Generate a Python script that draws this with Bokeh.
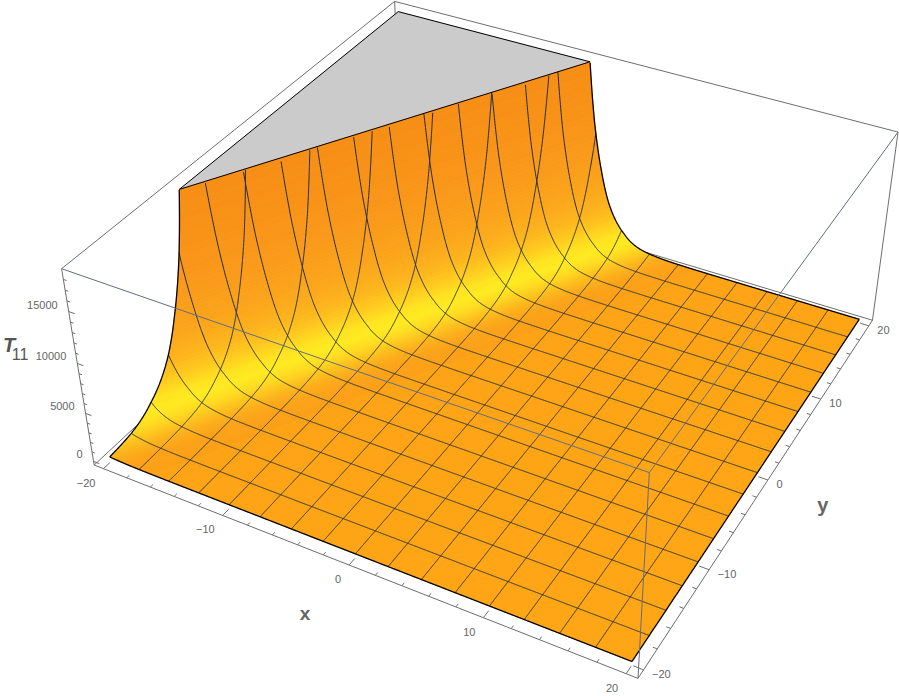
import numpy as np
from bokeh.plotting import figure
from bokeh.models import Range1d
from bokeh.embed import file_html
from bokeh.resources import INLINE
from bokeh.core.properties import value

# ---- data ----
x_tick_values = [-20, -10, 0, 10, 20]
y_tick_values = [-20, -10, 0, 10, 20]
z_tick_values = [0, 5000, 10000, 15000]
x_tick_labels = ["\u221220", "\u221210", "0", "10", "20"]
y_tick_labels = ["\u221220", "\u221210", "0", "10", "20"]
z_tick_labels = ["0", "5000", "10000", "15000"]
axis_labels = ["x", "y", "T", "11"]

# height of the surface along its ridge coordinate w = y - slope * x
ridge_w = [-55, 0, 5, 10, 12.5, 14.6, 17.1, 19.6, 22.1, 23.3, 24.6, 25.47]
ridge_t = [0.1, 0.3, 2, 20, 60, 155, 475, 1650, 4550, 7650, 12800, 18600]
ridge_slope = 1.732
z_clip = 18600
surface_min, surface_max = -20, 20
mesh_step = 2.5

# ---- shading of the surface along w ----
shade_w = [-55, 6, 9, 12, 14, 15.6, 17.2, 18.7, 19.7, 20.8, 21.8, 22.9, 24.0, 25.47]
shade_hex = ["#FFA616", "#FEA416", "#FCA017", "#FBA218", "#FCAE1A", "#FDC01C", "#FFD81F", "#FFEA20",
             "#FFE420", "#FFCC1E", "#FDB61D", "#FBA51B", "#FA991A", "#F78E16"]

# ---- camera: a projective fit of box/surface corners to the canvas ----
BOX = 20.8
ZB, ZT = -385.0, 18985.0
fit_world = [(-BOX, -BOX, ZB), (BOX, -BOX, ZB), (BOX, BOX, ZB), (-BOX, BOX, ZB),
             (-BOX, -BOX, ZT), (BOX, -BOX, ZT), (BOX, BOX, ZT), (-BOX, BOX, ZT),
             (-20, -20, 150), (20, -20, 0), (20, 20, 0), (-20, 20, 18600)]
fit_canvas = [(92.7, 463.5), (637.3, 677.7), (872.3, 320), (402, 179),
              (61.7, 269), (649.3, 472.3), (897.3, 131), (394, 0),
              (109.3, 456.7), (631.7, 661), (858.3, 319), (397.3, 11.7)]


def fit_camera():
    rows = []
    for (X, Y, Z), (u, v) in zip(fit_world, fit_canvas):
        Z = Z / 1000.0
        rows.append([X, Y, Z, 1, 0, 0, 0, 0, -u * X, -u * Y, -u * Z, -u])
        rows.append([0, 0, 0, 0, X, Y, Z, 1, -v * X, -v * Y, -v * Z, -v])
    return np.linalg.svd(np.array(rows))[2][-1].reshape(3, 4)


CAM = fit_camera()


def project(x, y, z):
    x, y, z = np.broadcast_arrays(np.asarray(x, float), np.asarray(y, float), np.asarray(z, float))
    h = CAM @ np.vstack([x.ravel(), y.ravel(), z.ravel() / 1000.0, np.ones(x.size)])
    return h[0] / h[2], h[1] / h[2]


def height(w):
    return np.minimum(np.exp(np.interp(w, ridge_w, np.log(ridge_t))), z_clip)


w_top = ridge_w[-1]
rgb = np.array([[int(c[i:i + 2], 16) for i in (1, 3, 5)] for c in shade_hex], float)


def shade(w):
    return "#%02x%02x%02x" % tuple(int(round(np.interp(w, shade_w, rgb[:, k]))) for k in range(3))


def w_of(x, y):
    return y - ridge_slope * x


def strip_polygon(w1, w2):
    """Part of the square between the level lines w1 and w2, as (x, y, w) vertices."""
    a, b = surface_min, surface_max
    verts = []
    for w in (w1, w2):
        for y in (a, b):              # crossings with y = const
            x = (y - w) / ridge_slope
            if a <= x <= b:
                verts.append((x, y, w))
        for x in (a, b):              # crossings with x = const
            y = w + ridge_slope * x
            if a < y < b:
                verts.append((x, y, w))
    for x, y in ((a, a), (a, b), (b, a), (b, b)):
        if w1 < w_of(x, y) < w2:
            verts.append((x, y, w_of(x, y)))
    cx = sum(v[0] for v in verts) / max(len(verts), 1)
    cy = sum(v[1] for v in verts) / max(len(verts), 1)
    verts.sort(key=lambda q: np.arctan2(q[1] - cy, q[0] - cx))
    return verts


p = figure(width=899, height=696, output_backend="svg", toolbar_location=None,
           x_range=Range1d(0, 899), y_range=Range1d(696, 0), min_border=0,
           outline_line_color=None, background_fill_color="white")
p.axis.visible = False
p.grid.visible = False

c_box = "#6e6e6e"
c_front = "#616d80"
c_mesh = "#1f2d40"


def seg(a, b):
    xs, ys = project([a[0], b[0]], [a[1], b[1]], [a[2], b[2]])
    return list(xs), list(ys)


def draw_segments(pairs, color, width=1.0):
    xs, ys = zip(*[seg(a, b) for a, b in pairs])
    p.multi_line(list(xs), list(ys), line_color=color, line_width=width)


# back of the box
A0, B0, C0, D0 = (-BOX, -BOX, ZB), (BOX, -BOX, ZB), (BOX, BOX, ZB), (-BOX, BOX, ZB)
A1, B1, C1, D1 = (-BOX, -BOX, ZT), (BOX, -BOX, ZT), (BOX, BOX, ZT), (-BOX, BOX, ZT)
draw_segments([(A1, D1), (D1, C1), (A0, D0), (D0, C0), (D0, D1)], c_box)

# clipped top of the surface
ya = w_top + ridge_slope * surface_min
xb = (surface_max - w_top) / ridge_slope
top_x, top_y = project([surface_min, surface_min, xb], [ya, surface_max, surface_max], [z_clip] * 3)
p.patch(list(top_x), list(top_y), fill_color="#cbcbcb", line_color="#cbcbcb", line_width=0.5)

# the surface, back to front, as strips between level lines of w
w_edges = np.concatenate([np.arange(-54.6, 10, 3.0), np.arange(10, 22, 0.2), np.arange(22, w_top, 0.1), [w_top]])
pxs, pys, cols = [], [], []
for w1, w2 in zip(w_edges[::-1][1:], w_edges[::-1][:-1]):
    verts = strip_polygon(w1, w2)
    if len(verts) < 3:
        continue
    vx = np.array([v[0] for v in verts])
    vy = np.array([v[1] for v in verts])
    vz = height(np.array([v[2] for v in verts]))
    sx, sy = project(vx, vy, vz)
    pxs.append(list(sx))
    pys.append(list(sy))
    cols.append(shade((w1 + w2) / 2))
p.patches(pxs, pys, fill_color=cols, line_color=cols, line_width=0.8)


def surface_line(xv, yv):
    xv, yv = np.asarray(xv, float), np.asarray(yv, float)
    w = w_of(xv, yv)
    keep = w <= w_top
    xv, yv, w = xv[keep], yv[keep], w[keep]
    return project(xv, yv, height(w))


dense = np.linspace(surface_min, surface_max, 1601)
mesh_values = np.arange(surface_min + mesh_step, surface_max, mesh_step)
mx, my = [], []
for v in mesh_values:
    for xv, yv in ((np.full_like(dense, v), dense), (dense, np.full_like(dense, v))):
        sx, sy = surface_line(xv, yv)
        mx.append(list(sx))
        my.append(list(sy))
p.multi_line(mx, my, line_color=c_mesh, line_width=1.0)

# outline of the surface
ox, oy = [], []
for xv, yv in ((np.full_like(dense, surface_min), dense), (np.full_like(dense, surface_max), dense),
               (dense, np.full_like(dense, surface_min)), (dense, np.full_like(dense, surface_max))):
    sx, sy = surface_line(xv, yv)
    ox.append(list(sx))
    oy.append(list(sy))
p.multi_line(ox, oy, line_color="black", line_width=1.3)
p.line(list(top_x) + [top_x[0]], list(top_y) + [top_y[0]], line_color="black", line_width=1.0)

# front of the box
draw_segments([(A1, B1), (B1, C1), (B0, B1)], c_front)
draw_segments([(A0, B0), (B0, C0), (A0, A1), (C0, C1)], c_box)

# tick marks
ticks = []
for v in range(-20, 21, 2):
    L = 0.7 if v % 10 == 0 else 0.3
    ticks.append(((v, -BOX, ZB), (v, -BOX + L, ZB)))
    ticks.append(((BOX, v, ZB), (BOX - L, v, ZB)))
for v in range(0, 19000, 1000):
    L = 0.5 if v % 5000 == 0 else 0.25
    ticks.append(((-BOX, -BOX, v), (-BOX + L, -BOX, v)))
draw_segments(ticks, c_box)

# tick labels
font = value("Liberation Sans")
lx, ly = project(x_tick_values, [-BOX] * 5, [ZB] * 5)
p.text(list(lx), list(ly), text=x_tick_labels, text_font=font, text_font_size="11px", text_color="#666666",
       text_align="right", text_baseline="middle", x_offset=-8, y_offset=14)
lx, ly = project([BOX] * 5, y_tick_values, [ZB] * 5)
p.text(list(lx), list(ly), text=y_tick_labels, text_font=font, text_font_size="11px", text_color="#666666",
       text_align="left", text_baseline="middle", x_offset=8.5, y_offset=4)
lx, ly = project([-BOX] * 4, [-BOX] * 4, z_tick_values)
p.text(list(lx), list(ly), text=z_tick_labels, text_font=font, text_font_size="11px", text_color="#666666",
       text_align="right", text_baseline="middle", x_offset=-11, y_offset=-7)

# axis titles, placed beside the axes they name
tx, ty = project([0, BOX, -BOX], [-BOX, 0, -BOX], [ZB, ZB, 9500])
p.text([tx[0]], [ty[0]], text=[axis_labels[0]], text_font=font, text_font_style="bold", text_font_size="19px",
       text_color="#666666", text_align="center", text_baseline="middle", x_offset=-44, y_offset=48)
p.text([tx[1]], [ty[1]], text=[axis_labels[1]], text_font=font, text_font_style="bold", text_font_size="20px",
       text_color="#666666", text_align="center", text_baseline="middle", x_offset=55, y_offset=25)
p.text([tx[2]], [ty[2]], text=[axis_labels[2]], text_font=font, text_font_style="bold italic", text_font_size="20px",
       text_color="#555555", text_align="center", text_baseline="middle", x_offset=-69, y_offset=-24)
p.text([tx[2]], [ty[2]], text=[axis_labels[3]], text_font=font, text_font_size="16px",
       text_color="#555555", text_align="center", text_baseline="middle", x_offset=-58, y_offset=-15)

open("out.html", "w").write(file_html(p, INLINE))
